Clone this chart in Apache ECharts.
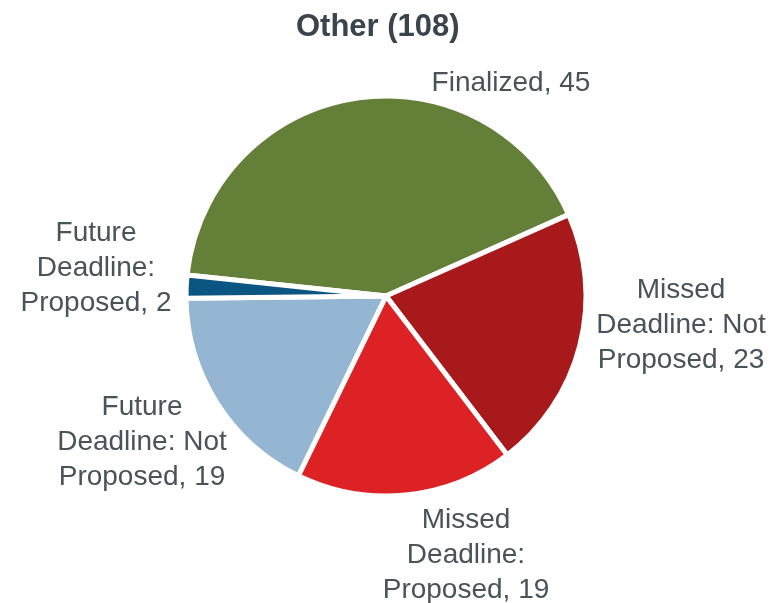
<!DOCTYPE html>
<html><head><meta charset="utf-8">
<script src="https://cdn.jsdelivr.net/npm/echarts@6/dist/echarts.min.js"></script>
<style>html,body{margin:0;padding:0;background:#fff}#c{width:778px;height:603px}</style>
</head><body><div id="c"></div>
<script>
const title = 'Other (108)';
const categories = ['Finalized', 'Missed Deadline: Not Proposed', 'Missed Deadline: Proposed', 'Future Deadline: Not Proposed', 'Future Deadline: Proposed'];
const labelTexts = ['Finalized, 45', 'Missed\nDeadline: Not\nProposed, 23', 'Missed\nDeadline:\nProposed, 19', 'Future\nDeadline: Not\nProposed, 19', 'Future\nDeadline:\nProposed, 2'];
const values = [45, 23, 19, 19, 2];
const colors = ['#647f38', '#a8191b', '#dd2226', '#95b6d2', '#0a5582'];

// layout: label block centres, as offsets from the pie centre
const pieCenter = [386, 296];
const labelOffsets = [[125, -213], [295, 29], [80, 259], [-244, 146], [-290, -28]];

const chart = echarts.init(document.getElementById('c'));
chart.setOption({
  animation: false,
  title: {text: title, left: 291, top: 7,
    textStyle: {fontFamily: 'Liberation Sans', fontSize: 31, fontWeight: 'bold', color: '#3b444d'}},
  series: [{
    type: 'pie',
    center: pieCenter,
    radius: 200,
    startAngle: 174,
    clockwise: true,
    avoidLabelOverlap: false,
    itemStyle: {borderColor: '#fff', borderWidth: 5},
    labelLine: {show: false},
    label: {
      show: true, position: 'outside',
      fontFamily: 'Liberation Sans', fontSize: 28, lineHeight: 35, color: '#4a525a', align: 'center',
      formatter: p => labelTexts[p.dataIndex]
    },
    labelLayout: p => ({
      x: pieCenter[0] + labelOffsets[p.dataIndex][0],
      y: pieCenter[1] + labelOffsets[p.dataIndex][1],
      align: 'center', verticalAlign: 'middle'
    }),
    data: categories.map((c, i) => ({name: c, value: values[i], itemStyle: {color: colors[i]}}))
  }]
});
</script></body></html>
